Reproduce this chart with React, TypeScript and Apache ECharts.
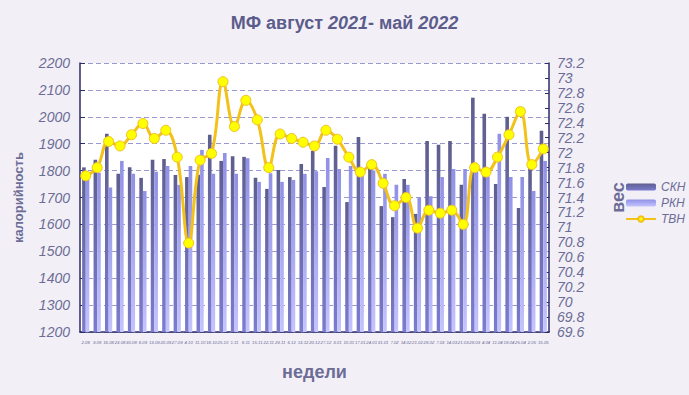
import React, { useEffect, useRef } from "react";
import * as echarts from "echarts";

const weeks = [
  "2.08", "9.08", "16.08", "23.08", "30.08", "6.09", "13.09", "20.09", "27.09",
  "4.10", "11.10", "18.10", "25.10", "1.11", "8.11", "15.11", "22.11", "29.11",
  "6.12", "13.12", "20.12", "27.12", "3.01", "10.01", "17.01", "24.01", "31.01",
  "7.02", "14.02", "21.02", "28.02", "7.03", "14.03", "21.03", "28.03", "4.04",
  "11.04", "18.04", "25.04", "2.05", "15.05",
];

const skn = [
  1812, 1840, 1937, 1788, 1812, 1773, 1840, 1843, 1784, 1776, 1785, 1933, 1836, 1853,
  1851, 1773, 1732, 1802, 1776, 1825, 1873, 1739, 1892, 1683, 1925, 1809, 1668, 1627,
  1769, 1639, 1910, 1896, 1910, 1747, 2071, 2011, 1750, 2000, 1661, 1817, 1948,
];

const rkn = [
  1778, 1792, 1737, 1836, 1788, 1724, 1796, 1817, 1747, 1817, 1877, 1788, 1865, 1788,
  1846, 1758, 1790, 1758, 1765, 1788, 1798, 1847, 1806, 1817, 1784, 1800, 1788, 1747,
  1747, 1698, 1705, 1776, 1806, 1806, 1795, 1778, 1937, 1776, 1776, 1724, 1836,
];

const tvn = [
  71.69, 71.8, 72.15, 72.09, 72.24, 72.39, 72.19, 72.3, 71.94, 70.79, 71.9, 71.99, 72.95,
  72.35, 72.7, 72.44, 71.8, 72.25, 72.19, 72.14, 72.09, 72.3, 72.18, 71.94, 71.74, 71.84,
  71.59, 71.29, 71.4, 70.99, 71.23, 71.19, 71.23, 71.04, 71.8, 71.74, 71.94, 72.24, 72.55,
  71.84, 72.05,
];

const textColor = "#6c6c96";
const titleColor = "#5c5c8c";
const axisColor = "#2c2c66";
const font = "Liberation Sans, Arial, sans-serif";

export default function App() {
  const ref = useRef<HTMLDivElement>(null);

  useEffect(() => {
    if (!ref.current) return;
    const chart = echarts.init(ref.current, null, { renderer: "svg" });

    const darkGrad = new echarts.graphic.LinearGradient(0, 0, 0, 1, [
      { offset: 0, color: "#5e5e8e" },
      { offset: 1, color: "#7c7cd0" },
    ]);
    const lightGrad = new echarts.graphic.LinearGradient(0, 0, 0, 1, [
      { offset: 0, color: "#9090e6" },
      { offset: 1, color: "#c4c4ff" },
    ]);

    chart.setOption({
      animation: false,
      backgroundColor: "#f2f0f6",
      textStyle: { fontFamily: font },
      title: {
        text: "{b|МФ август }{i|2021}{b|- май }{i|2022}",
        left: "center",
        top: 9,
        textStyle: {
          rich: {
            b: { fontSize: 18, fontWeight: "bold", color: titleColor, fontFamily: font },
            i: {
              fontSize: 18,
              fontWeight: "bold",
              fontStyle: "italic",
              color: titleColor,
              fontFamily: font,
            },
          },
        },
      },
      legend: {
        orient: "vertical",
        left: 620,
        top: 176,
        itemWidth: 30,
        itemHeight: 7,
        itemGap: 4,
        textStyle: { color: textColor, fontStyle: "italic", fontSize: 12, fontFamily: font },
        data: ["СКН", "РКН", "ТВН"],
      },
      grid: {
        left: 80,
        right: 140,
        top: 63,
        bottom: 63,
        show: true,
        backgroundColor: "#ffffff",
        borderWidth: 0,
      },
      xAxis: {
        type: "category",
        data: weeks,
        boundaryGap: true,
        name: "недели",
        nameLocation: "middle",
        nameGap: 31,
        nameTextStyle: { color: textColor, fontWeight: "bold", fontSize: 18, fontFamily: font },
        axisLine: { lineStyle: { color: axisColor, width: 1.5 } },
        axisTick: { inside: true, length: 4, interval: 0, lineStyle: { color: axisColor } },
        axisLabel: {
          interval: 0,
          fontSize: 4.3,
          fontStyle: "italic",
          color: textColor,
          margin: 8,
          fontFamily: font,
        },
        splitLine: { show: false },
      },
      yAxis: [
        {
          type: "value",
          min: 1200,
          max: 2200,
          interval: 100,
          name: "калорийность",
          nameLocation: "middle",
          nameRotate: 90,
          nameGap: 55,
          nameTextStyle: { color: textColor, fontWeight: "bold", fontSize: 13, fontFamily: font },
          axisLine: { show: true, lineStyle: { color: axisColor, width: 1.5 } },
          axisTick: { show: true, inside: true, length: 5, lineStyle: { color: axisColor } },
          axisLabel: {
            fontSize: 14,
            fontStyle: "italic",
            color: textColor,
            margin: 10,
            fontFamily: font,
            formatter: (v: number) => String(v),
          },
          splitLine: { show: true, lineStyle: { color: "#9a9ad0", type: [5, 3], width: 1 } },
        },
        {
          type: "value",
          min: 69.6,
          max: 73.2,
          interval: 0.2,
          position: "right",
          name: "вес",
          nameLocation: "middle",
          nameRotate: 90,
          nameGap: 60,
          nameTextStyle: { color: textColor, fontWeight: "bold", fontSize: 18, fontFamily: font },
          axisLine: { show: true, lineStyle: { color: axisColor, width: 1.5 } },
          axisTick: { show: true, inside: true, length: 4, lineStyle: { color: axisColor } },
          axisLabel: {
            fontSize: 14,
            fontStyle: "italic",
            color: textColor,
            margin: 8,
            fontFamily: font,
            formatter: (v: number) => String(Math.round(v * 10) / 10),
          },
          splitLine: { show: false },
        },
      ],
      series: [
        {
          name: "СКН",
          type: "bar",
          yAxisIndex: 0,
          data: skn,
          barWidth: 3.6,
          barGap: "0%",
          itemStyle: { color: darkGrad },
        },
        {
          name: "РКН",
          type: "bar",
          yAxisIndex: 0,
          data: rkn,
          barWidth: 3.6,
          barGap: "0%",
          itemStyle: { color: lightGrad },
        },
        {
          name: "ТВН",
          type: "line",
          yAxisIndex: 1,
          data: tvn,
          smooth: 0.4,
          symbol: "circle",
          symbolSize: 10,
          lineStyle: { color: "#f2c21a", width: 3 },
          itemStyle: { color: "#ffff00", borderColor: "#f0c020", borderWidth: 1 },
          z: 5,
        },
      ],
    });

    return () => chart.dispose();
  }, []);

  return (
    <div
      ref={ref}
      style={{ position: "fixed", left: 0, top: 0, width: 689, height: 395 }}
    />
  );
}
